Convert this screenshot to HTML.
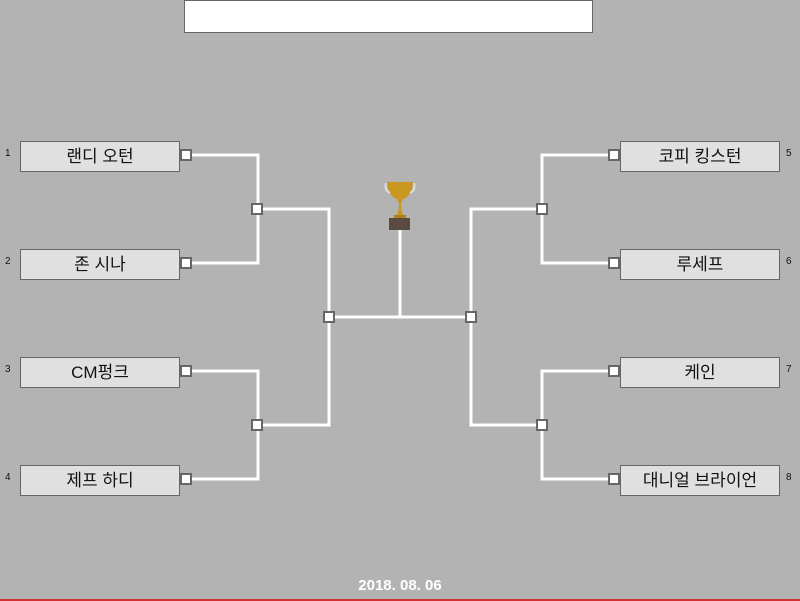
<!DOCTYPE html>
<html><head><meta charset="utf-8"><style>
html,body{margin:0;padding:0;background:#b3b3b3;}
svg{display:block}
text{font-family:"Liberation Sans","Noto Sans CJK KR",sans-serif;}
</style></head><body>
<svg width="800" height="601" viewBox="0 0 800 601" xmlns="http://www.w3.org/2000/svg">
<rect x="0" y="0" width="800" height="601" fill="#b3b3b3"/>
<rect x="184.5" y="0.5" width="408" height="32" fill="#fff" stroke="#666"/>
<g stroke="#fff" stroke-width="3" fill="none">
<path d="M186 155H258V263H186"/><path d="M258 209H329V425H258"/>
<path d="M186 371H258V479H186"/>
<path d="M614 155H542V263H614"/><path d="M542 209H471V425H542"/>
<path d="M614 371H542V479H614"/>
<path d="M329 317H471M400 317V228"/>
</g>
<g fill="#e0e0e0" stroke="#666" stroke-width="1">
<rect x="20.5" y="141.5" width="159" height="30"/>
<rect x="20.5" y="249.5" width="159" height="30"/>
<rect x="20.5" y="357.5" width="159" height="30"/>
<rect x="20.5" y="465.5" width="159" height="30"/>
<rect x="620.5" y="141.5" width="159" height="30"/>
<rect x="620.5" y="249.5" width="159" height="30"/>
<rect x="620.5" y="357.5" width="159" height="30"/>
<rect x="620.5" y="465.5" width="159" height="30"/>
</g>
<g fill="#fff" stroke="#666" stroke-width="2">
<rect x="181" y="150" width="10" height="10"/><rect x="181" y="258" width="10" height="10"/>
<rect x="181" y="366" width="10" height="10"/><rect x="181" y="474" width="10" height="10"/>
<rect x="609" y="150" width="10" height="10"/><rect x="609" y="258" width="10" height="10"/>
<rect x="609" y="366" width="10" height="10"/><rect x="609" y="474" width="10" height="10"/>
<rect x="252" y="204" width="10" height="10"/><rect x="252" y="420" width="10" height="10"/>
<rect x="537" y="204" width="10" height="10"/><rect x="537" y="420" width="10" height="10"/>
<rect x="324" y="312" width="10" height="10"/><rect x="466" y="312" width="10" height="10"/>
</g>
<g font-size="17" fill="#111" text-anchor="middle">
<text x="100" y="162">랜디 오턴</text><text x="100" y="270">존 시나</text>
<text x="100" y="378">CM펑크</text><text x="100" y="486">제프 하디</text>
<text x="700" y="162">코피 킹스턴</text><text x="700" y="270">루세프</text>
<text x="700" y="378">케인</text><text x="700" y="486">대니얼 브라이언</text>
</g>
<g font-size="10" fill="#111">
<text x="5" y="156">1</text><text x="5" y="264">2</text><text x="5" y="372">3</text><text x="5" y="480">4</text>
<text x="786" y="156">5</text><text x="786" y="264">6</text><text x="786" y="372">7</text><text x="786" y="480">8</text>
</g>
<!-- trophy -->
<path d="M387 182H413Q412 196 403 199L401 204Q401 212 404 216H396Q399 212 399 204L397 199Q388 196 387 182Z" fill="#c9961f"/>
<path d="M386 183Q384 190 390 193M414 183Q416 190 410 193" stroke="#ddd" stroke-width="2" fill="none"/>
<rect x="394" y="215" width="12" height="4" fill="#b08020"/>
<rect x="389" y="218" width="21" height="12" fill="#5a4a40"/>
<text x="400" y="590" font-size="15" font-weight="bold" fill="#fff" text-anchor="middle">2018. 08. 06</text>
<rect x="0" y="599" width="800" height="2" fill="#d03030"/>
</svg>
</body></html>
